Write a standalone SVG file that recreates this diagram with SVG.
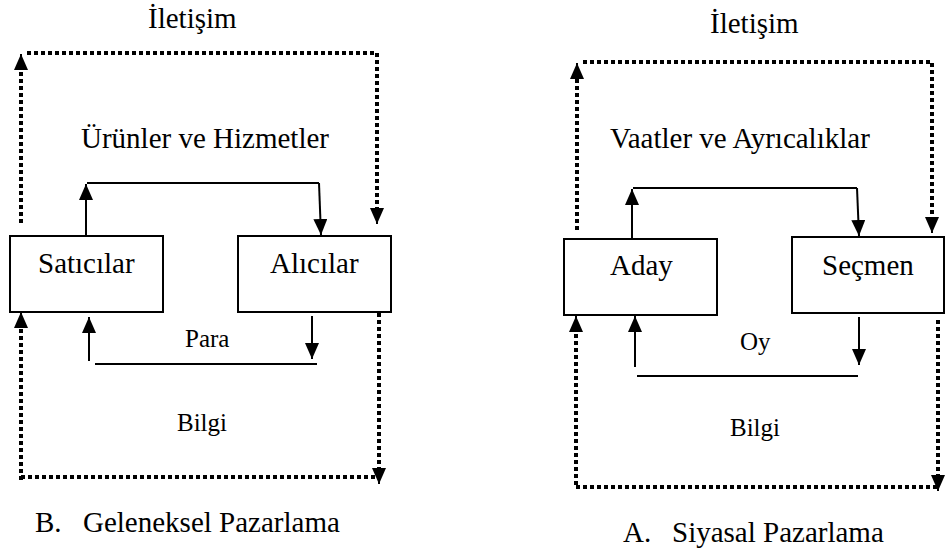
<svg xmlns="http://www.w3.org/2000/svg" width="946" height="557" viewBox="0 0 946 557">
<defs>
<style>
text{font-family:'Liberation Serif',serif;fill:#000;}
.big{font-size:29px;}
.mid{font-size:25px;}
.box{fill:#fff;stroke:#000;stroke-width:2;}
.sl{fill:none;stroke:#000;stroke-width:2;}
.dl{fill:none;stroke:#000;stroke-width:4;stroke-dasharray:4 3;}
</style>
<marker id="ah" markerUnits="userSpaceOnUse" markerWidth="16" markerHeight="14" viewBox="0 0 16 14" refX="16" refY="7" orient="auto">
<path d="M0,0 L16,7 L0,14 Z" fill="#000"/>
</marker>
</defs>
<rect width="946" height="557" fill="#fff"/>

<g id="left-labels" font-family="Liberation Serif, serif">
<text class="big" x="148" y="28">İletişim</text>
<text class="big" x="81" y="148">Ürünler ve Hizmetler</text>
<text class="mid" x="185" y="347">Para</text>
<text class="mid" x="177" y="431">Bilgi</text>
<text class="big" x="35" y="532">B.<tspan x="83">Geleneksel Pazarlama</tspan></text>
</g>

<g id="right-labels" font-family="Liberation Serif, serif">
<text class="big" x="710" y="33">İletişim</text>
<text class="big" x="610" y="148">Vaatler ve Ayrıcalıklar</text>
<text class="mid" x="740" y="350">Oy</text>
<text class="mid" x="730" y="436">Bilgi</text>
<text class="big" x="623" y="542">A.<tspan x="672">Siyasal Pazarlama</tspan></text>
</g>

<g id="connectors">
<path class="sl" d="M86,236 L86,184" marker-end="url(#ah)"/>
<path class="sl" d="M87,183 L319,183"/>
<path class="sl" d="M319,183 L321,235" marker-end="url(#ah)"/>
<path class="sl" d="M89,361 L89,317" marker-end="url(#ah)"/>
<path class="sl" d="M95,364 L317,364"/>
<path class="sl" d="M312,316 L312,359" marker-end="url(#ah)"/>
<path class="dl" d="M21,223 L21,68"/>
<path class="sl" d="M21,68 L21,54" marker-end="url(#ah)"/>
<path class="dl" d="M27,53 L377,53 L377,210"/>
<path class="sl" d="M377,210 L377,224" marker-end="url(#ah)"/>
<path class="dl" d="M21,480 L21,326"/>
<path class="sl" d="M21,326 L21,312" marker-end="url(#ah)"/>
<path class="dl" d="M21,477 L379,477"/>
<path class="dl" d="M379,313 L379,470"/>
<path class="sl" d="M379,470 L379,484" marker-end="url(#ah)"/>
<path class="sl" d="M632,239 L632,189" marker-end="url(#ah)"/>
<path class="sl" d="M633,188 L857,188"/>
<path class="sl" d="M857,188 L859,236" marker-end="url(#ah)"/>
<path class="sl" d="M635,367 L635,316" marker-end="url(#ah)"/>
<path class="sl" d="M637,376 L858,376"/>
<path class="sl" d="M859,317 L859,365" marker-end="url(#ah)"/>
<path class="dl" d="M577,230 L577,77"/>
<path class="sl" d="M577,77 L577,63" marker-end="url(#ah)"/>
<path class="dl" d="M583,62 L932,62 L932,219"/>
<path class="sl" d="M932,219 L932,233" marker-end="url(#ah)"/>
<path class="dl" d="M576,485 L576,330"/>
<path class="sl" d="M576,330 L576,316" marker-end="url(#ah)"/>
<path class="dl" d="M576,487 L938,487"/>
<path class="dl" d="M938,320 L938,477"/>
<path class="sl" d="M938,477 L938,491" marker-end="url(#ah)"/>
</g>

<g id="satıcılar" font-family="Liberation Serif, serif">
<rect class="box" x="10" y="236" width="153" height="76"/>
<text class="big" x="38" y="273">Satıcılar</text>
</g>
<g id="alıcılar" font-family="Liberation Serif, serif">
<rect class="box" x="238" y="236" width="153" height="76"/>
<text class="big" x="270" y="273">Alıcılar</text>
</g>
<g id="aday" font-family="Liberation Serif, serif">
<rect class="box" x="564" y="239" width="153" height="76"/>
<text class="big" x="610" y="275">Aday</text>
</g>
<g id="seçmen" font-family="Liberation Serif, serif">
<rect class="box" x="792" y="237" width="152" height="76"/>
<text class="big" x="822" y="275">Seçmen</text>
</g>
</svg>
